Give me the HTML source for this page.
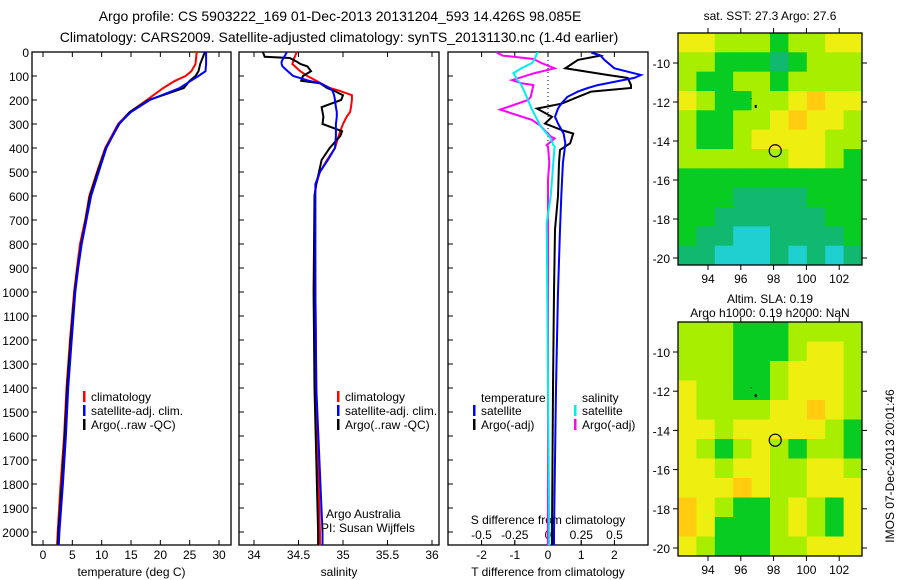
<!DOCTYPE html>
<html><head><meta charset="utf-8"><style>
html,body{margin:0;padding:0;background:#fff;}
svg{display:block;font-family:"Liberation Sans",sans-serif;}
</style></head><body>
<svg id="chart" width="900" height="580" xmlns="http://www.w3.org/2000/svg">
<text x="340" y="21" font-size="14" text-anchor="middle">Argo profile: CS 5903222_169 01-Dec-2013 20131204_593 14.426S 98.085E</text>
<text x="339" y="42" font-size="14" text-anchor="middle">Climatology: CARS2009. Satellite-adjusted climatology: synTS_20131130.nc (1.4d earlier)</text>
<text x="770" y="20" font-size="12" text-anchor="middle">sat. SST: 27.3 Argo: 27.6</text>
<text x="770" y="303" font-size="12" text-anchor="middle">Altim. SLA: 0.19</text>
<text x="770" y="317" font-size="12" text-anchor="middle">Argo h1000: 0.19 h2000: NaN</text>
<text transform="translate(894,466) rotate(-90)" font-size="12" text-anchor="middle">IMOS 07-Dec-2013 20:01:46</text>
<g id="plots"></g>
</svg>
<script>
// ---- profile data ----
const tempDepths = [0,50,80,100,120,150,200,250,300,400,500,600,700,800,900,1000,1200,1400,1600,1800,2000,2055];
const tempClim   = [26.2,26.0,25.3,24.3,22.5,20.5,17.7,14.8,12.8,10.6,9.2,7.9,7.2,6.3,5.8,5.3,4.6,4.0,3.6,3.0,2.5,2.4];
const tempSat    = [27.8,27.8,27.7,26.5,25.2,23.3,18.2,15.0,12.9,10.8,9.5,8.2,7.4,6.6,6.0,5.5,4.9,4.3,3.9,3.4,2.8,2.7];
const tempArgo   = [27.6,26.8,26.5,26.0,25.0,24.0,18.0,14.8,13.0,10.7,9.3,8.0,7.3,6.5,5.9,5.4,4.7,4.1,3.7,3.2,2.6,2.5];

const salDepths = [0,20,25,40,50,60,80,100,120,130,150,160,180,200,230,250,270,300,330,350,400,450,500,550,600,1000,1400,2000,2055];
const salClim   = [34.48,34.46,34.45,34.44,34.43,34.46,34.52,34.6,34.7,34.75,34.85,34.95,35.1,35.1,35.09,35.08,35.04,35.0,34.97,34.95,34.91,34.82,34.74,34.70,34.68,34.69,34.70,34.74,34.74];
const salSat    = [34.37,34.34,34.33,34.31,34.31,34.32,34.38,34.44,34.62,34.74,34.85,34.88,34.9,34.91,34.92,34.93,34.93,34.92,34.92,34.92,34.91,34.83,34.74,34.69,34.69,34.69,34.70,34.77,34.77];
const salArgo   = [34.1,34.12,34.4,34.48,34.52,34.6,34.64,34.55,34.53,34.74,34.82,34.89,35.0,34.98,34.76,34.77,34.78,34.77,34.99,34.97,34.85,34.76,34.73,34.70,34.68,34.67,34.68,34.72,34.72];

const dTDepths = [0,4,15,33,68,96,108,138,150,165,187,215,236,270,298,327,340,380,408,462,600,740,1000,1400,2000,2055];
const dTSat    = [1.33,1.33,1.58,1.7,2.0,2.8,2.6,1.5,1.2,0.9,0.58,0.4,0.3,0.21,0.3,0.42,0.47,0.52,0.5,0.45,0.4,0.36,0.3,0.24,0.18,0.18];
const dTArgo   = [1.36,1.36,1.58,0.9,0.52,1.8,2.4,2.5,2.5,1.3,0.9,0.42,-0.33,0.12,-0.09,0.45,0.76,0.67,0.36,0.33,0.3,0.21,0.18,0.15,0.12,0.12];

const dSDepths = [0,4,15,29,46,68,88,117,130,138,187,200,240,283,306,352,360,388,394,460,533,600,713,1400,2000,2055];
const dSSat    = [-0.08,-0.08,-0.09,-0.1,-0.12,-0.2,-0.26,-0.23,-0.21,-0.2,-0.16,-0.15,-0.12,-0.08,-0.06,0.01,0.02,0.04,0.05,0.04,0.03,0.02,-0.01,0,0.01,0.01];
const dSArgo   = [-0.38,-0.38,-0.34,-0.11,-0.05,0.05,-0.1,-0.27,-0.2,-0.11,-0.13,-0.15,-0.36,-0.12,-0.06,0.02,0.05,-0.01,0.0,0.01,0.0,0,0,0,0,0];

const depthTicks = [0,100,200,300,400,500,600,700,800,900,1000,1100,1200,1300,1400,1500,1600,1700,1800,1900,2000];
const tempTicks = [0,5,10,15,20,25,30];
const salTicks = [34,34.5,35,35.5,36];
const salTickLabels = ["34","34.5","35","35.5","36"];
const dTTicks = [-2,-1,0,1,2];
const dSTicks = [-0.5,-0.25,0,0.25,0.5];
const dSTickLabels = ["-0.5","-0.25","0","0.25","0.5"];

// ---- map data (colour class per cell, rows north->south, cols west->east) ----
const sstGrid = [
 [4,4,3,3,3,2,3,3,4,4],
 [3,3,2,2,2,1,2,3,3,3],
 [3,2,2,3,3,2,3,3,3,3],
 [4,3,2,2,3,3,4,5,4,4],
 [3,2,2,3,3,4,5,4,4,3],
 [3,2,2,3,4,4,4,4,3,3],
 [3,3,3,3,3,3,4,4,3,2],
 [2,2,2,2,2,2,2,2,2,2],
 [2,2,2,1,1,1,1,2,2,2],
 [2,2,1,1,1,1,1,1,2,2],
 [2,1,1,0,0,1,1,1,1,2],
 [1,1,0,0,0,1,0,1,0,1]];
const slaGrid = [
 [3,3,3,2,2,2,3,3,3,3],
 [3,3,3,2,2,2,3,4,4,3],
 [3,3,3,2,2,3,4,4,4,3],
 [4,3,3,2,2,3,4,4,4,3],
 [4,3,3,3,3,4,4,5,4,3],
 [4,4,3,4,4,4,4,4,3,2],
 [4,3,2,3,4,3,2,3,3,2],
 [4,4,3,4,4,3,3,4,4,3],
 [4,4,4,5,4,3,3,4,4,4],
 [5,4,3,2,2,3,4,3,2,4],
 [5,4,2,2,2,3,4,3,2,4],
 [4,3,2,2,2,3,3,4,4,4]];
const lonTicks = [94,96,98,100,102];
const latTicks = [-10,-12,-14,-16,-18,-20];
const floatLon = [98.1];
const floatLat = [-14.5];

const NS='http://www.w3.org/2000/svg';
const root=document.getElementById('plots');
function el(tag,attrs,parent){const e=document.createElementNS(NS,tag);for(const k in attrs)e.setAttribute(k,attrs[k]);(parent||root).appendChild(e);return e;}
function txt(x,y,s,size,anchor,parent){const t=el('text',{x:x,y:y,'font-size':size,'text-anchor':anchor},parent);t.textContent=s;return t;}

const yTop=52, yBot=545;
const yD = d => yTop + d*0.24;

function panel(name,x0,x1,xs,ticks,labels,xlabel,showDepth){
  const g=el('g',{});
  
  
  const r=el('rect',{x:x0,y:yTop,width:x1-x0,height:yBot-yTop,fill:'none',stroke:'#000','stroke-width':1.3},g);
  
  
  ticks.forEach((v,i)=>{
    const x=xs(v);
    el('line',{x1:x,y1:yTop,x2:x,y2:yTop+5,stroke:'#000'},g);
    el('line',{x1:x,y1:yBot,x2:x,y2:yBot-5,stroke:'#000'},g);
    const t=txt(x,559,labels[i],12,'middle',g);
    
    
  });
  depthTicks.forEach(d=>{
    el('line',{x1:x0,y1:yD(d),x2:x0+5,y2:yD(d),stroke:'#000'},g);
    if(showDepth){
      const t=txt(x0-3,yD(d)+5,String(d),12,'end',g);
      
      
    }
  });
  const xl=txt((x0+x1)/2,576,xlabel,12,'middle',g);
  
  
  return g;
}
function line(g,name,depths,vals,xs,color,w){
  const pts=depths.map((d,i)=>xs(vals[i]).toFixed(1)+','+yD(d).toFixed(1)).join(' ');
  const p=el('polyline',{points:pts,fill:'none',stroke:color,'stroke-width':w||2,'stroke-linejoin':'miter'},g);
  
  
}
function legend(g,x,y,color,label,name){
  el('rect',{x:x,y:y-7,width:2.5,height:11,fill:color},g);
  const t=txt(x+8,y+3,label,12,'start',g);
  
  
}

// Panel 1 temperature
const xT = v => 43 + v*5.867;
const g1=panel('temperature-panel',32,231,xT,tempTicks,tempTicks.map(String),'temperature (deg C)',true);
line(g1,'temp-climatology-line',tempDepths,tempClim,xT,'#ff0000');
line(g1,'temp-argo-line',tempDepths,tempArgo,xT,'#000000');
line(g1,'temp-satellite-line',tempDepths,tempSat,xT,'#0000ff');
legend(g1,83,398,'#ff0000','climatology','legend-climatology');
legend(g1,83,412,'#0000ff','satellite-adj. clim.','legend-satellite-adj');
legend(g1,83,426,'#000000','Argo(..raw -QC)','legend-argo');

// Panel 2 salinity
const xS = v => 254 + (v-34)*89;
const g2=panel('salinity-panel',239,439,xS,salTicks,salTickLabels,'salinity',false);
line(g2,'sal-climatology-line',salDepths,salClim,xS,'#ff0000');
line(g2,'sal-argo-line',salDepths,salArgo,xS,'#000000');
line(g2,'sal-satellite-line',salDepths,salSat,xS,'#0000ff');
legend(g2,337,398,'#ff0000','climatology','legend-climatology-sal');
legend(g2,337,412,'#0000ff','satellite-adj. clim.','legend-satellite-adj-sal');
legend(g2,337,426,'#000000','Argo(..raw -QC)','legend-argo-sal');
const a1=txt(326,518,'Argo Australia',12,'start',g2);


const a2=txt(321,532,'PI: Susan Wijffels',12,'start',g2);



// Panel 3 differences
const xDT = v => 548 + v*33.2;
const xDS = v => 548 + v*133;
const g3=panel('difference-panel',448,648,xDT,dTTicks,dTTicks.map(String),'T difference from climatology',false);
el('line',{x1:xDT(0),y1:yD(0),x2:xDT(0),y2:yD(420),stroke:'#000','stroke-dasharray':'1,3'},g3);
dSTicks.forEach((v,i)=>{
  el('line',{x1:xDS(v),y1:yBot,x2:xDS(v),y2:yBot-5,stroke:'#000'},g3);
  const t=txt(xDS(v),539,dSTickLabels[i],12,'middle',g3);
  
  
});
const sdl=txt(548,524,'S difference from climatology',12,'middle',g3);


line(g3,'s-argo-diff-line',dSDepths,dSArgo,xDS,'#ff00ff');
line(g3,'s-satellite-diff-line',dSDepths,dSSat,xDS,'#00eeee');
line(g3,'t-argo-diff-line',dTDepths,dTArgo,xDT,'#000000');
line(g3,'t-satellite-diff-line',dTDepths,dTSat,xDT,'#0000ff');
const lt=txt(481,402,'temperature',12,'start',g3);


const ls=txt(582,402,'salinity',12,'start',g3);


legend(g3,473,412,'#0000ff','satellite','legend-t-satellite');
legend(g3,473,426,'#000000','Argo(-adj)','legend-t-argo');
legend(g3,574,412,'#00eeee','satellite','legend-s-satellite');
legend(g3,574,426,'#ff00ff','Argo(-adj)','legend-s-argo');

// Maps
const palette=['#20d0d0','#10b870','#08cc22','#a8ee00','#eeee10','#ffcc10'];
const mX0=678,mX1=862;
const lonX = lon => 708 + (lon-94)*16.4;
function drawMap(name,grid,top,bot,lat10y,lat20y){
  const g=el('g',{});
  
  
  const latY = lat => lat10y + (-10-lat)*(lat20y-lat10y)/10;
  const rows=grid.length, cols=grid[0].length;
  const cw=(mX1-mX0)/cols, ch=(bot-top)/rows;
  grid.forEach((row,r)=>row.forEach((v,c)=>{
    const cell=el('rect',{x:(mX0+c*cw).toFixed(2),y:(top+r*ch).toFixed(2),width:(cw+0.5).toFixed(2),height:(ch+0.5).toFixed(2),fill:palette[v]},g);
    
    
  }));
  el('rect',{x:mX0,y:top,width:mX1-mX0,height:bot-top,fill:'none',stroke:'#000','stroke-width':1.3},g);
  lonTicks.forEach(l=>{
    el('line',{x1:lonX(l),y1:top,x2:lonX(l),y2:top-5,stroke:'#000'},g);
    el('line',{x1:lonX(l),y1:bot,x2:lonX(l),y2:bot+5,stroke:'#000'},g);
    const t=txt(lonX(l),bot+18,String(l),12,'middle',g);
    
    
  });
  latTicks.forEach(l=>{
    el('line',{x1:mX1,y1:latY(l),x2:mX1+5,y2:latY(l),stroke:'#000'},g);
    el('line',{x1:mX0,y1:latY(l),x2:mX0-5,y2:latY(l),stroke:'#000'},g);
    const t=txt(mX0-8,latY(l)+5,String(l),12,'end',g);
    
    
  });
  const c=el('circle',{cx:lonX(floatLon[0]),cy:latY(floatLat[0]),r:6,fill:'none',stroke:'#000','stroke-width':1.2},g);
  
  
  el('rect',{x:lonX(96.85),y:latY(-12.15),width:2,height:3,fill:'#000'},g);
  el('rect',{x:lonX(96.6),y:latY(-11.8),width:1,height:1,fill:'#000'},g);
}
drawMap('sst-map',sstGrid,33,265,63,258);
drawMap('sla-map',slaGrid,322,556,352,548);
</script>
</body></html>
